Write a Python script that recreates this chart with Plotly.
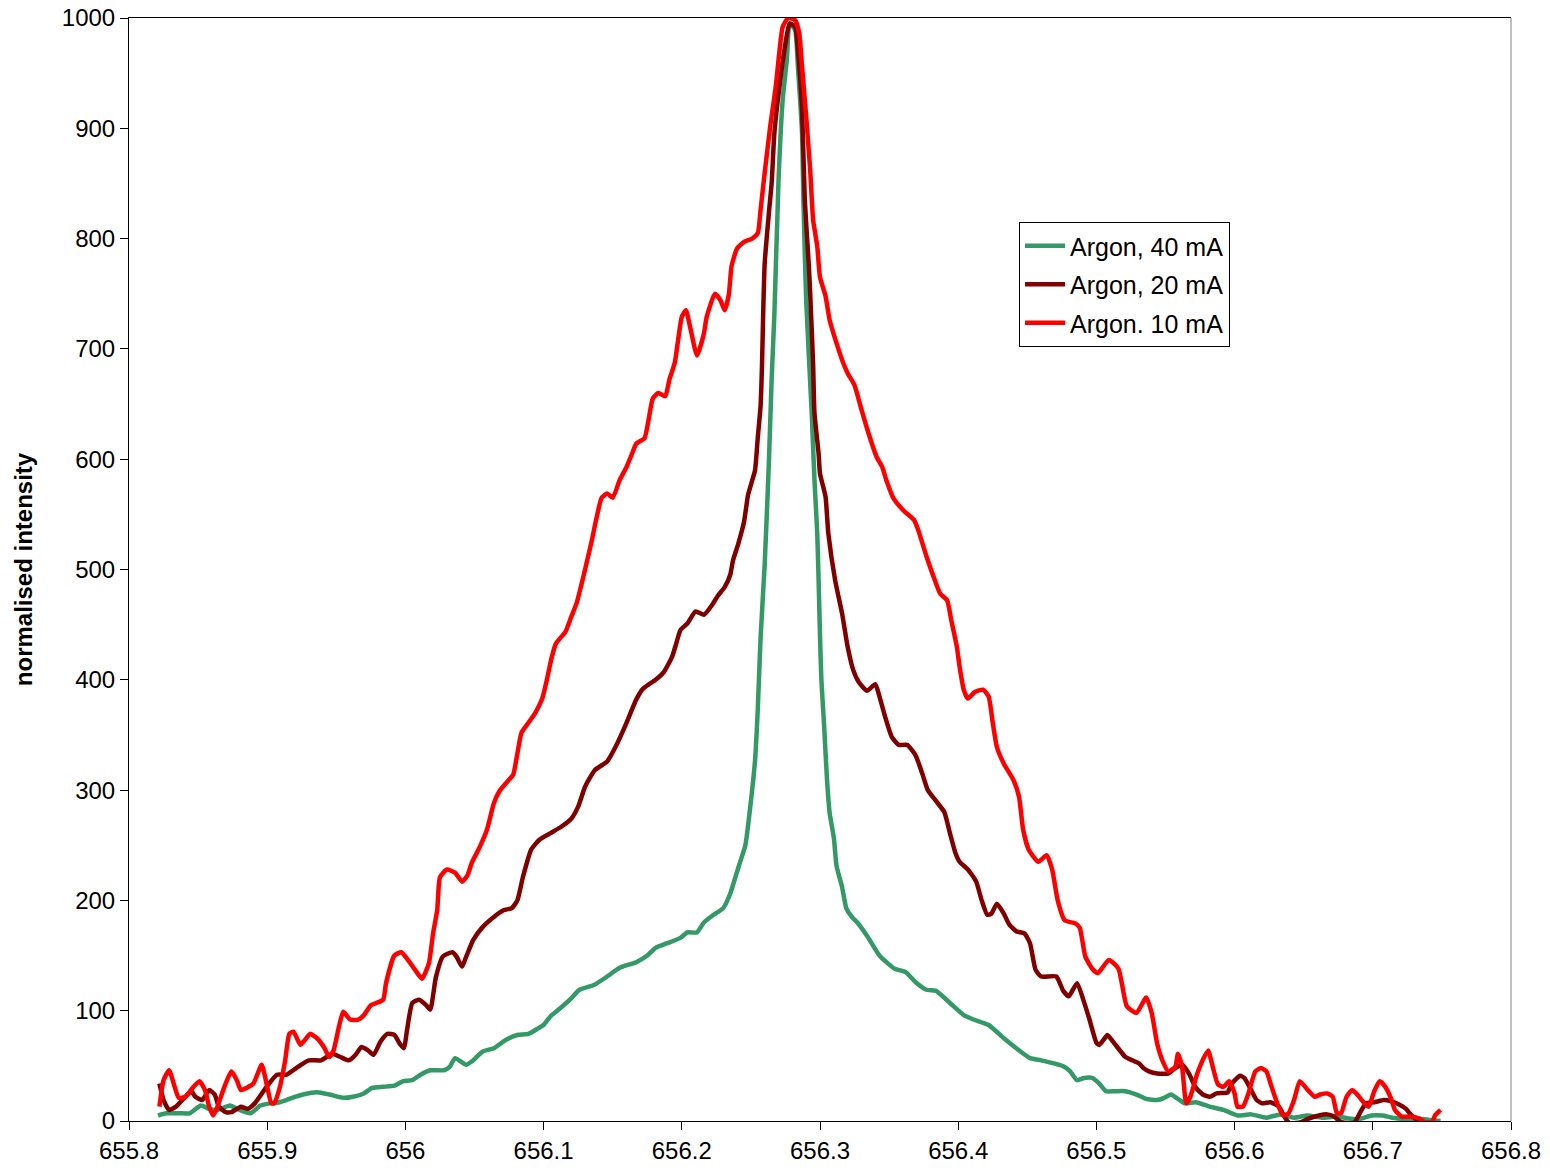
import plotly.graph_objects as go

# Wavelength (nm) and normalised intensity for each discharge current
wl_40 = [655.821, 655.827, 655.836, 655.844, 655.852, 655.858, 655.864, 655.873, 655.880, 655.888,
         655.895, 655.902, 655.909, 655.918, 655.926, 655.936, 655.945, 655.955, 655.962, 655.970,
         655.976, 655.984, 655.992, 655.998, 656.005, 656.011, 656.018, 656.028, 656.032, 656.036,
         656.044, 656.048, 656.056, 656.064, 656.072, 656.081, 656.089, 656.096, 656.100, 656.105,
         656.109, 656.119, 656.126, 656.136, 656.146, 656.155, 656.167, 656.175, 656.181, 656.189,
         656.199, 656.204, 656.211, 656.216, 656.223, 656.230, 656.235, 656.239, 656.242, 656.246,
         656.249, 656.253, 656.255, 656.257, 656.260, 656.263, 656.265, 656.267, 656.270, 656.273,
         656.276, 656.278, 656.282, 656.284, 656.287, 656.288, 656.290, 656.294, 656.296, 656.298,
         656.299, 656.300, 656.301, 656.303, 656.305, 656.307, 656.310, 656.312, 656.316, 656.319,
         656.323, 656.327, 656.334, 656.343, 656.354, 656.362, 656.369, 656.377, 656.384, 656.394,
         656.404, 656.411, 656.422, 656.433, 656.442, 656.452, 656.460, 656.470, 656.477, 656.481,
         656.486, 656.491, 656.497, 656.502, 656.507, 656.513, 656.521, 656.529, 656.536, 656.544,
         656.549, 656.554, 656.559, 656.564, 656.572, 656.582, 656.592, 656.602, 656.612, 656.623,
         656.633, 656.643, 656.653, 656.663, 656.674, 656.684, 656.691, 656.699, 656.707, 656.714,
         656.724, 656.734, 656.741, 656.749]
int_40 = [5, 7, 7, 7, 14, 11, 10, 14, 10, 7,
          14, 16, 17, 21, 24, 26, 24, 21, 22, 25,
          30, 31, 32, 36, 37, 42, 46, 46, 49, 57,
          51, 54, 63, 66, 73, 78, 79, 84, 87, 95,
          99, 110, 119, 123, 131, 139, 144, 150, 157, 161,
          166, 171, 171, 180, 187, 193, 206, 222, 234, 250,
          279, 327, 374, 438, 505, 597, 672, 732, 853, 926,
          962, 995, 989, 956, 896, 835, 744, 642, 581, 533,
          490, 440, 400, 358, 311, 279, 257, 231, 212, 193,
          185, 180, 168, 150, 138, 135, 126, 119, 118, 107,
          96, 92, 87, 75, 66, 57, 55, 52, 49, 45,
          37, 39, 39, 34, 27, 27, 27, 24, 20, 19,
          21, 24, 20, 16, 17, 13, 10, 5, 6, 3,
          6, 3, 5, 3, 4, 2, 2, 5, 5, 3,
          2, 2, 1, 0]

wl_20 = [655.822, 655.825, 655.829, 655.834, 655.840, 655.845, 655.848, 655.853, 655.858, 655.862,
         655.865, 655.870, 655.874, 655.881, 655.886, 655.891, 655.899, 655.907, 655.914, 655.921,
         655.930, 655.939, 655.947, 655.953, 655.959, 655.964, 655.968, 655.973, 655.977, 655.982,
         655.987, 655.992, 655.996, 655.999, 656.001, 656.005, 656.010, 656.015, 656.018, 656.022,
         656.027, 656.034, 656.037, 656.041, 656.044, 656.049, 656.056, 656.064, 656.071, 656.077,
         656.081, 656.085, 656.091, 656.097, 656.105, 656.113, 656.120, 656.125, 656.130, 656.137,
         656.146, 656.152, 656.160, 656.167, 656.172, 656.181, 656.187, 656.193, 656.196, 656.199,
         656.204, 656.210, 656.216, 656.222, 656.226, 656.231, 656.235, 656.237, 656.241, 656.245,
         656.248, 656.251, 656.253, 656.255, 656.257, 656.258, 656.259, 656.260, 656.263, 656.265,
         656.267, 656.271, 656.275, 656.278, 656.282, 656.284, 656.287, 656.289, 656.292, 656.293,
         656.295, 656.296, 656.299, 656.300, 656.304, 656.306, 656.311, 656.316, 656.320, 656.324,
         656.328, 656.334, 656.340, 656.343, 656.347, 656.352, 656.357, 656.363, 656.369, 656.374,
         656.378, 656.384, 656.390, 656.394, 656.398, 656.401, 656.407, 656.413, 656.417, 656.421,
         656.424, 656.428, 656.433, 656.437, 656.442, 656.448, 656.452, 656.456, 656.460, 656.471,
         656.476, 656.480, 656.486, 656.491, 656.495, 656.500, 656.502, 656.506, 656.508, 656.512,
         656.517, 656.521, 656.526, 656.531, 656.534, 656.538, 656.544, 656.552, 656.557, 656.562,
         656.567, 656.572, 656.577, 656.582, 656.587, 656.595, 656.598, 656.604, 656.607, 656.612,
         656.616, 656.620, 656.626, 656.632, 656.637, 656.640, 656.648, 656.653, 656.661, 656.667,
         656.672, 656.677, 656.684, 656.687, 656.691, 656.695, 656.701, 656.708, 656.713, 656.719,
         656.724, 656.728, 656.732, 656.737]
int_20 = [34, 19, 10, 13, 21, 27, 22, 19, 28, 24,
          13, 8, 8, 13, 11, 16, 30, 42, 42, 48,
          55, 55, 61, 58, 55, 60, 67, 64, 60, 72,
          79, 78, 70, 66, 81, 107, 110, 105, 101, 130,
          149, 153, 149, 140, 149, 164, 176, 185, 191, 193,
          200, 221, 246, 255, 261, 267, 274, 285, 303, 318,
          326, 339, 361, 382, 392, 400, 407, 421, 433, 445,
          451, 462, 459, 468, 476, 484, 495, 508, 524, 543,
          568, 581, 590, 620, 648, 684, 738, 778, 823, 850,
          896, 941, 977, 995, 992, 971, 917, 835, 774, 747,
          687, 642, 605, 587, 566, 533, 490, 460, 430, 409,
          398, 390, 396, 385, 367, 348, 341, 341, 332, 315,
          300, 290, 280, 261, 243, 235, 228, 217, 200, 187,
          188, 197, 188, 178, 172, 170, 161, 137, 131, 131,
          118, 113, 125, 108, 92, 71, 69, 75, 78, 72,
          64, 58, 55, 52, 48, 45, 43, 43, 48, 51,
          43, 30, 24, 22, 25, 26, 34, 41, 39, 28,
          19, 16, 17, 13, 2, -2, -1, 2, 5, 6,
          4, -1, -2, -1, 8, 16, 17, 19, 18, 15,
          11, 5, 1, -1]

wl_10 = [655.822, 655.825, 655.829, 655.833, 655.836, 655.841, 655.846, 655.851, 655.855, 655.858,
         655.861, 655.864, 655.869, 655.874, 655.878, 655.881, 655.885, 655.890, 655.896, 655.899,
         655.903, 655.905, 655.909, 655.913, 655.916, 655.919, 655.924, 655.927, 655.931, 655.936,
         655.941, 655.945, 655.948, 655.952, 655.955, 655.960, 655.966, 655.970, 655.975, 655.981,
         655.984, 655.986, 655.992, 655.997, 656.003, 656.007, 656.012, 656.017, 656.020, 656.023,
         656.025, 656.030, 656.036, 656.041, 656.045, 656.048, 656.054, 656.059, 656.064, 656.068,
         656.074, 656.078, 656.081, 656.084, 656.089, 656.094, 656.099, 656.102, 656.106, 656.109,
         656.116, 656.120, 656.124, 656.130, 656.135, 656.138, 656.142, 656.146, 656.150, 656.155,
         656.160, 656.164, 656.167, 656.173, 656.176, 656.179, 656.183, 656.188, 656.191, 656.195,
         656.197, 656.200, 656.203, 656.206, 656.211, 656.216, 656.218, 656.224, 656.228, 656.231,
         656.234, 656.236, 656.240, 656.245, 656.251, 656.255, 656.257, 656.260, 656.264, 656.268,
         656.270, 656.273, 656.277, 656.282, 656.285, 656.287, 656.290, 656.293, 656.295, 656.298,
         656.300, 656.304, 656.307, 656.312, 656.316, 656.320, 656.325, 656.330, 656.335, 656.341,
         656.345, 656.348, 656.353, 656.360, 656.368, 656.371, 656.377, 656.382, 656.387, 656.392,
         656.395, 656.399, 656.401, 656.404, 656.407, 656.412, 656.418, 656.422, 656.425, 656.428,
         656.433, 656.440, 656.444, 656.447, 656.451, 656.458, 656.464, 656.468, 656.472, 656.477,
         656.485, 656.488, 656.492, 656.497, 656.501, 656.509, 656.516, 656.522, 656.529, 656.536,
         656.540, 656.544, 656.548, 656.552, 656.557, 656.559, 656.562, 656.565, 656.568, 656.573,
         656.578, 656.581, 656.583, 656.588, 656.592, 656.596, 656.600, 656.602, 656.606, 656.610,
         656.615, 656.619, 656.623, 656.626, 656.630, 656.635, 656.639, 656.643, 656.647, 656.649,
         656.653, 656.658, 656.662, 656.667, 656.671, 656.674, 656.677, 656.681, 656.685, 656.688,
         656.694, 656.697, 656.701, 656.705, 656.709, 656.713, 656.716, 656.721, 656.728, 656.734,
         656.738, 656.743, 656.745, 656.749]
int_10 = [13, 37, 46, 31, 21, 22, 30, 36, 28, 13,
          5, 13, 31, 45, 37, 28, 30, 34, 51, 37,
          16, 16, 30, 55, 79, 81, 69, 73, 79, 75,
          67, 58, 64, 86, 99, 92, 92, 96, 105, 108,
          110, 125, 150, 153, 144, 137, 129, 143, 170, 191,
          221, 228, 225, 217, 223, 234, 249, 264, 288, 299,
          308, 314, 333, 352, 361, 370, 383, 398, 421, 433,
          444, 457, 470, 500, 527, 545, 565, 569, 565, 581,
          593, 605, 614, 619, 636, 655, 660, 657, 672, 688,
          705, 729, 735, 720, 694, 714, 729, 750, 744, 735,
          749, 775, 791, 797, 800, 805, 826, 860, 902, 938,
          962, 992, 1000, 998, 986, 956, 911, 860, 817, 793,
          765, 748, 726, 705, 690, 678, 667, 645, 624, 602,
          593, 581, 565, 554, 545, 536, 512, 494, 478, 472,
          454, 430, 412, 391, 383, 389, 391, 385, 361, 339,
          324, 309, 294, 264, 246, 235, 241, 228, 200, 182,
          179, 175, 149, 138, 134, 146, 138, 104, 98, 112,
          98, 70, 54, 45, 49, 61, 49, 16, 22, 43,
          58, 64, 55, 33, 31, 36, 25, 13, 13, 25,
          45, 48, 45, 34, 19, 5, 7, 19, 36, 34,
          28, 22, 24, 25, 22, 7, 7, 22, 28, 25,
          16, 13, 27, 36, 31, 21, 10, 4, 4, 2,
          -1, -1, 5, 10]

series_names = ["Argon, 40 mA", "Argon, 20 mA", "Argon. 10 mA"]
series_colors = ["#339966", "#800000", "#FF0000"]

x_tick_vals = [655.8, 655.9, 656.0, 656.1, 656.2, 656.3, 656.4, 656.5, 656.6, 656.7, 656.8]
x_tick_text = ["655.8", "655.9", "656", "656.1", "656.2", "656.3", "656.4", "656.5", "656.6", "656.7", "656.8"]
y_tick_vals = [0, 100, 200, 300, 400, 500, 600, 700, 800, 900, 1000]

FONT = "Liberation Sans, Arial, sans-serif"

fig = go.Figure()
for i, (wl, val) in enumerate([(wl_40, int_40), (wl_20, int_20), (wl_10, int_10)]):
    fig.add_trace(go.Scatter(
        x=wl, y=val, mode="lines", name=series_names[i],
        legendgroup=f"g{i}",
        line=dict(color=series_colors[i], width=4.5, shape="spline", smoothing=0.5),
    ))

fig.update_layout(
    width=1550, height=1175,
    margin=dict(l=129, r=39, t=18, b=54),
    paper_bgcolor="white", plot_bgcolor="white",
    font=dict(family=FONT, size=24, color="black"),
    showlegend=True,
    legend=dict(
        x=0.644, y=0.815, xanchor="left", yanchor="top",
        bordercolor="black", borderwidth=1, bgcolor="white",
        font=dict(family=FONT, size=25, color="black"),
        tracegroupgap=3, itemwidth=40,
    ),
    xaxis=dict(
        range=[655.8, 656.8], tickmode="array",
        tickvals=x_tick_vals, ticktext=x_tick_text,
        ticks="outside", ticklen=8, tickcolor="black", tickwidth=1,
        showline=True, linecolor="black", linewidth=1, mirror=True,
        showgrid=False, zeroline=False, automargin=False,
        tickfont=dict(family=FONT, size=24, color="black"),
    ),
    yaxis=dict(
        range=[0, 1000], tickmode="array", tickvals=y_tick_vals,
        ticks="outside", ticklen=8, tickcolor="black", tickwidth=1,
        showline=True, linecolor="black", linewidth=1,
        showgrid=False, zeroline=False, automargin=False,
        tickfont=dict(family=FONT, size=24, color="black"),
        title=dict(text="<b>normalised intensity</b>",
                   font=dict(family=FONT, size=24, color="black"), standoff=22),
    ),
)

# right-hand frame edge of the plot area
fig.add_shape(type="line", xref="paper", yref="paper", x0=1, x1=1, y0=0, y1=1,
              line=dict(color="#808080", width=1))

fig.write_html("out.html")
